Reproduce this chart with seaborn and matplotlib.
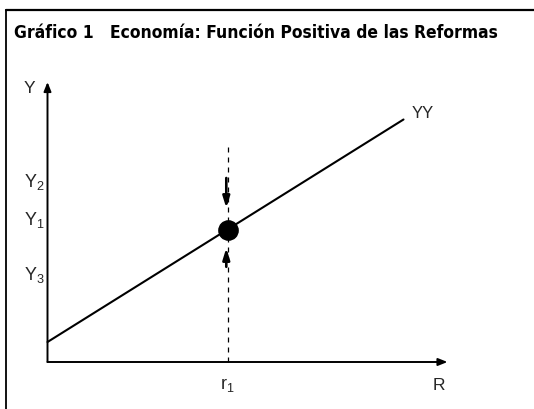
import matplotlib
matplotlib.use("Agg")
import matplotlib.pyplot as plt
import seaborn as sns
import numpy as np
import pandas as pd

# Model: YY curve Y = a + b * R
r_values = [0.0, 8.9]
intercept = 0.5
slope = 0.625
r1 = 4.5
y1 = intercept + slope * r1

# Levels marked on the vertical axis (top of each label)
y_levels = [4.75, 3.8, 2.43]
y_level_labels = [r"Y$_2$", r"Y$_1$", r"Y$_3$"]

# Adjustment arrows toward equilibrium: (start, end) on the Y axis
adjust_down = (4.6, 3.85)
adjust_up = (2.38, 2.85)

x_axis_max = 10.0
y_axis_max = 7.0
dashed_top = 5.5

title_left = "Gráfico 1"
title_right = "Economía: Función Positiva de las Reformas"

sns.set_theme(style="white")
plt.rcParams["font.family"] = ["Liberation Sans", "DejaVu Sans"]
plt.rcParams["mathtext.fontset"] = "custom"
plt.rcParams["mathtext.rm"] = "Liberation Sans"
plt.rcParams["mathtext.it"] = "Liberation Sans"

fig = plt.figure(figsize=(5.34, 4.09), dpi=100)
ax = fig.add_axes([0, 0, 1, 1])
ax.set_xlim(-1.1875, 12.1625)
ax.set_ylim(-1.175, 9.05)
ax.axis("off")

# Outer frame: left and top border
fig.add_artist(plt.Line2D([6 / 534, 6 / 534], [0, 1 - 10 / 409], color="black", lw=1.3))
fig.add_artist(plt.Line2D([6 / 534, 1], [1 - 10 / 409, 1 - 10 / 409], color="black", lw=1.6))

# Title
title_font = dict(family=["DejaVu Sans"], stretch="condensed",
                  weight="bold", size=12.5, color="black", va="center")
fig.text(14 / 534, 1 - 33 / 409, title_left, ha="left", **title_font)
fig.text(110 / 534, 1 - 33 / 409, title_right, ha="left", **title_font)

# Axes with arrow heads
arrow_kw = dict(arrowstyle="-|>,head_length=0.45,head_width=0.18", color="black", lw=1.4,
                shrinkA=0, shrinkB=0)
ax.annotate("", xy=(0, y_axis_max), xytext=(0, 0), arrowprops=arrow_kw)
ax.annotate("", xy=(x_axis_max, 0), xytext=(0, 0), arrowprops=arrow_kw)

# Dashed vertical at r1
ax.plot([r1, r1], [0, dashed_top], color="black", lw=0.9, ls=(0, (4, 4)))

# YY line
df = pd.DataFrame({"R": r_values, "Y": [intercept + slope * r for r in r_values]})
sns.lineplot(data=df, x="R", y="Y", ax=ax, color="black", lw=1.5)
ax.text(r_values[1] + 0.2, intercept + slope * r_values[1] + 0.15, "YY",
        fontsize=12, ha="left", va="center")

# Equilibrium point
sns.scatterplot(x=[r1], y=[y1], ax=ax, s=190, color="black", edgecolor="black", zorder=5)

# Adjustment arrows
adj_kw = dict(arrowstyle="-|>,head_length=0.55,head_width=0.17", color="black", lw=1.9,
              shrinkA=0, shrinkB=0)
ax.annotate("", xy=(r1 - 0.03, adjust_down[1]), xytext=(r1 - 0.03, adjust_down[0]), arrowprops=adj_kw)
ax.annotate("", xy=(r1 - 0.03, adjust_up[1]), xytext=(r1 - 0.03, adjust_up[0]), arrowprops=adj_kw)

# Axis labels
ax.text(-0.59, 6.83, "Y", fontsize=12.5, ha="left", va="center")
ax.text(9.95, -0.4, "R", fontsize=12.5, ha="right", va="top")
ax.text(r1, -0.35, r"r$_1$", fontsize=13, ha="center", va="top")
for lvl, lab in zip(y_levels, y_level_labels):
    ax.text(-0.59, lvl, lab, fontsize=13, ha="left", va="top")

fig.savefig("out.png", dpi=100, facecolor="white")
